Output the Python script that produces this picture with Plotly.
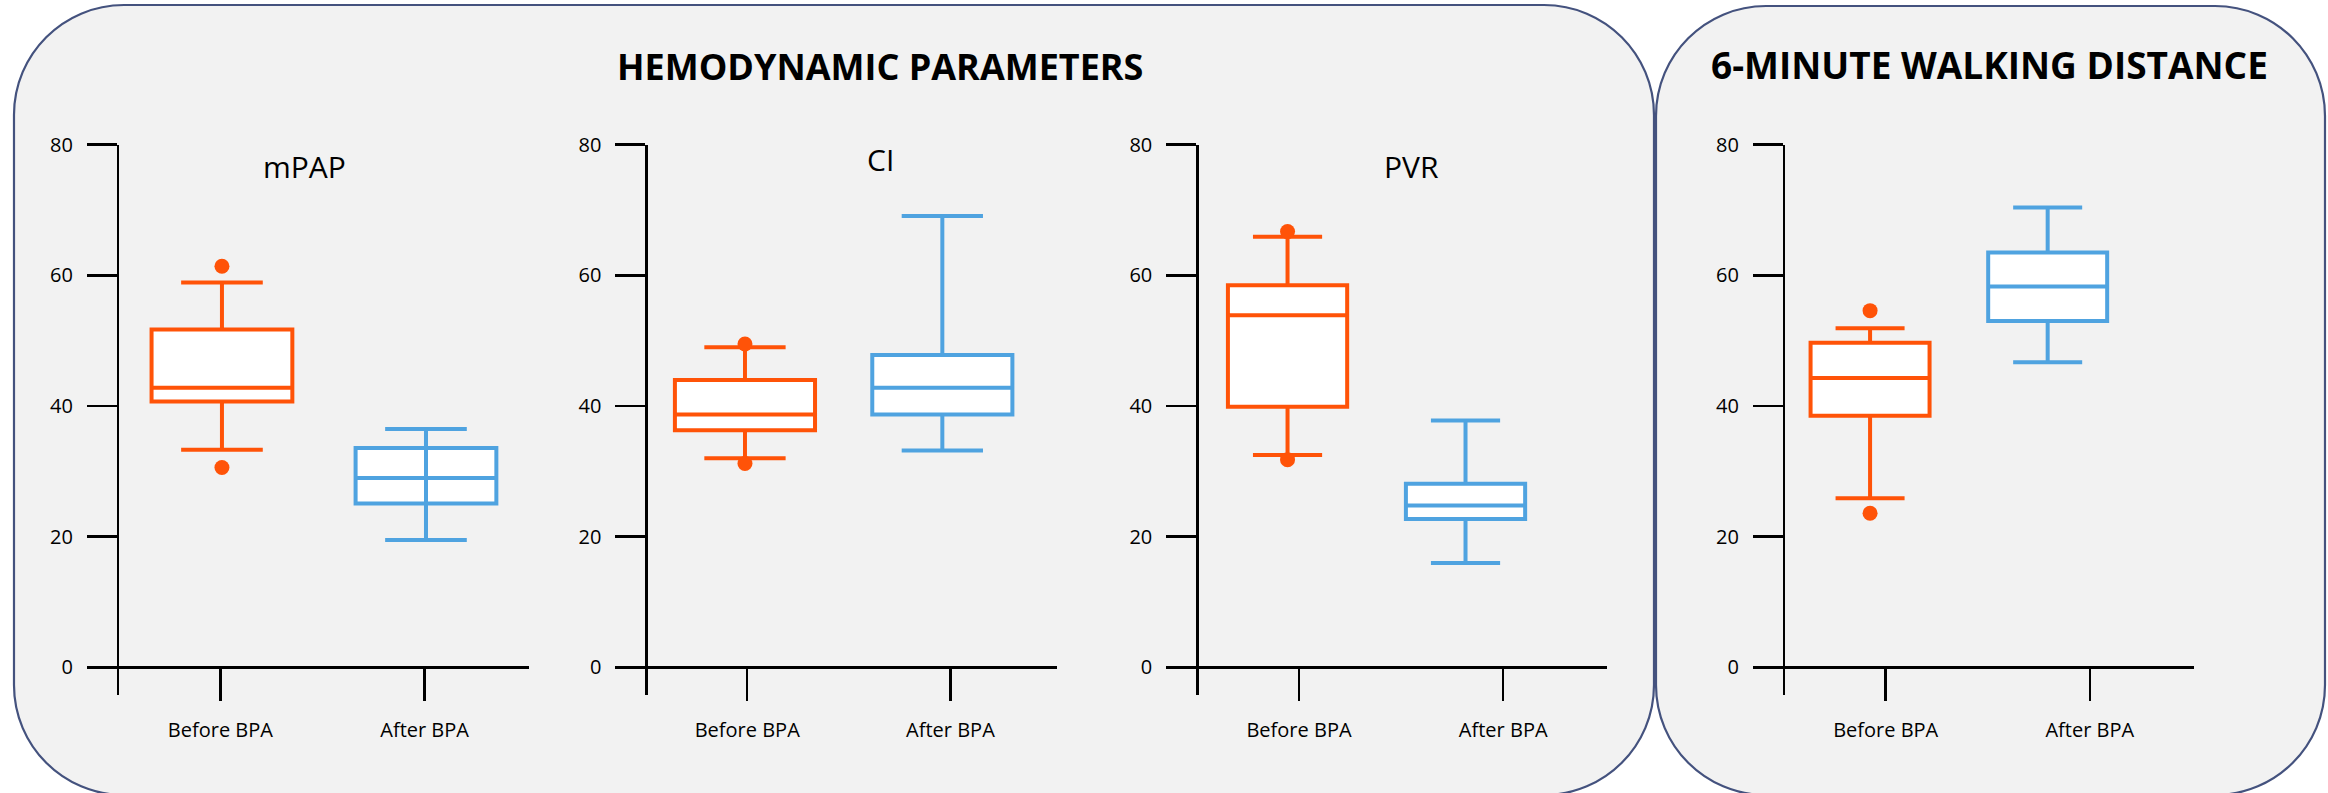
import plotly.graph_objects as go

W, H = 2328, 793

# ---------------- data ----------------
categories = ["Before BPA", "After BPA"]
metrics = ["mPAP", "CI", "PVR", "6MWD"]
subtitles = ["mPAP", "CI", "PVR", ""]
group_titles = ["HEMODYNAMIC PARAMETERS", "6-MINUTE WALKING DISTANCE"]
y_ticks = [0, 20, 40, 60, 80]

before_lower = [33.3, 32.0, 32.5, 25.9]
before_q1 = [40.7, 36.3, 39.9, 38.5]
before_median = [42.8, 38.7, 53.9, 44.3]
before_q3 = [51.7, 44.0, 58.5, 49.7]
before_upper = [58.9, 49.0, 65.9, 51.9]
before_outlier_high = [61.4, 49.5, 66.7, 54.6]
before_outlier_low = [30.6, 31.2, 31.8, 23.6]

after_lower = [19.5, 33.2, 16.0, 46.7]
after_q1 = [25.1, 38.7, 22.7, 53.0]
after_median = [29.0, 42.8, 24.8, 58.3]
after_q3 = [33.6, 47.8, 28.1, 63.5]
after_upper = [36.5, 69.1, 37.8, 70.4]
after_whisker_through_box = [True, False, False, False]

# ---------------- styling / layout geometry (pixels) ----------------
ORANGE = "#FF5308"
BLUE = "#4FA3E0"
BORDER = "#44527E"
PANEL_FILL = "#F2F2F2"
FONT = "Open Sans, DejaVu Sans, sans-serif"

# x-domain (left,right) px, y-axis line x px, box-axis range, tick-axis range, box width
panels = [
    dict(dom=(87.5, 528.6), axis_x=117.9, rng=(-0.659, 1.503), trng=(-0.6508, 1.5093), bw=0.69),
    dict(dom=(615.7, 1056.8), axis_x=646.4, rng=(-0.655, 1.580), trng=(-0.6473, 1.5235), bw=0.71),
    dict(dom=(1165.8, 1607.2), axis_x=1197.3, rng=(-0.684, 1.796), trng=(-0.6523, 1.5093), bw=0.67),
    dict(dom=(1753.2, 2194.2), axis_x=1783.9, rng=(-0.658, 1.825), trng=(-0.6492, 1.5115), bw=0.67),
]
Y_TOP_PX, Y_BOT_PX = 144.7, 695.0
Y_ZERO_PX = 667.4
Y_RANGE = [-4.22, 80]
subtitle_pos = [(304, 167), (880, 159), (1411, 167), None]


def px(x, y):
    return x / W, 1 - y / H


def rounded_rect(x0, y0, x1, y1, r):
    k = 0.5523 * r

    def P(x, y):
        a, b = px(x, y)
        return f"{a:.5f},{b:.5f}"

    s = f"M {P(x0 + r, y0)} L {P(x1 - r, y0)} "
    s += f"C {P(x1 - r + k, y0)} {P(x1, y0 + r - k)} {P(x1, y0 + r)} "
    s += f"L {P(x1, y1 - r)} "
    s += f"C {P(x1, y1 - r + k)} {P(x1 - r + k, y1)} {P(x1 - r, y1)} "
    s += f"L {P(x0 + r, y1)} "
    s += f"C {P(x0 + r - k, y1)} {P(x0, y1 - r + k)} {P(x0, y1 - r)} "
    s += f"L {P(x0, y0 + r)} "
    s += f"C {P(x0, y0 + r - k)} {P(x0 + r - k, y0)} {P(x0 + r, y0)} Z"
    return s


def ax_id(letter, n):
    return letter if n == 1 else f"{letter}{n}"


def ax_name(letter, n):
    return f"{letter}axis" if n == 1 else f"{letter}axis{n}"


fig = go.Figure()

for i in range(4):
    xr = ax_id("x", i + 1)
    xt = ax_id("x", i + 5)
    yr = ax_id("y", i + 1)
    bw = panels[i]["bw"]
    fig.add_trace(go.Box(
        x=[categories[0]], q1=[before_q1[i]], median=[before_median[i]], q3=[before_q3[i]],
        lowerfence=[before_lower[i]], upperfence=[before_upper[i]],
        name=categories[0], width=bw, whiskerwidth=0.58,
        line=dict(color=ORANGE, width=4), fillcolor="white",
        boxpoints=False, showlegend=False, xaxis=xr, yaxis=yr))
    fig.add_trace(go.Box(
        x=[categories[1]], q1=[after_q1[i]], median=[after_median[i]], q3=[after_q3[i]],
        lowerfence=[after_lower[i]], upperfence=[after_upper[i]],
        name=categories[1], width=bw, whiskerwidth=0.58,
        line=dict(color=BLUE, width=4), fillcolor="white",
        boxpoints=False, showlegend=False, xaxis=xr, yaxis=yr))
    fig.add_trace(go.Scatter(
        x=[categories[0], categories[0]],
        y=[before_outlier_high[i], before_outlier_low[i]],
        mode="markers", marker=dict(color=ORANGE, size=15),
        showlegend=False, hoverinfo="y", xaxis=xr, yaxis=yr))
    if after_whisker_through_box[i]:
        fig.add_trace(go.Scatter(
            x=[categories[1], categories[1]], y=[after_lower[i], after_upper[i]],
            mode="lines", line=dict(color=BLUE, width=4),
            showlegend=False, hoverinfo="skip", xaxis=xr, yaxis=yr))
    # invisible helper registering the categories on the tick-label axis
    fig.add_trace(go.Scatter(
        x=categories, y=[before_median[i], after_median[i]],
        mode="markers", marker=dict(opacity=0, size=1),
        showlegend=False, hoverinfo="skip", xaxis=xt, yaxis=yr))

layout = dict(
    width=W, height=H, autosize=False,
    margin=dict(l=0, r=0, t=0, b=0, pad=0),
    paper_bgcolor="white", plot_bgcolor="rgba(0,0,0,0)",
    showlegend=False,
    font=dict(family=FONT, color="black"),
)

y_dom = [1 - Y_BOT_PX / H, 1 - Y_TOP_PX / H]
x_pos = 1 - Y_ZERO_PX / H
for i, p in enumerate(panels):
    layout[ax_name("x", i + 1)] = dict(
        domain=[p["dom"][0] / W, p["dom"][1] / W], range=list(p["rng"]),
        anchor="free", position=x_pos, type="category",
        categoryorder="array", categoryarray=categories,
        showline=False, showgrid=False, zeroline=False, automargin=False,
        ticks="", showticklabels=False, fixedrange=True)
    layout[ax_name("x", i + 5)] = dict(
        overlaying=ax_id("x", i + 1), range=list(p["trng"]),
        anchor="free", position=x_pos, type="category",
        categoryorder="array", categoryarray=categories,
        showline=False, showgrid=False, zeroline=False, automargin=False,
        ticks="outside", ticklen=33, tickwidth=2.5, tickcolor="black",
        tickfont=dict(family=FONT, size=20, color="black"),
        ticklabelstandoff=12, fixedrange=True)
    layout[ax_name("y", i + 1)] = dict(
        domain=y_dom, range=Y_RANGE, anchor="free", position=p["axis_x"] / W,
        tickmode="array", tickvals=y_ticks, ticktext=[str(t) for t in y_ticks],
        showline=True, linecolor="black", linewidth=2.5, automargin=False,
        ticks="outside", ticklen=30, tickwidth=2.5, tickcolor="black",
        showgrid=False, zeroline=True, zerolinecolor="black", zerolinewidth=2.5,
        tickfont=dict(family=FONT, size=20, color="black"),
        ticklabelstandoff=10, fixedrange=True)

fig.update_layout(**layout)

# rounded panel backgrounds
fig.add_shape(type="path", xref="paper", yref="paper", layer="below",
              path=rounded_rect(14, 5, 1654, 795, 110),
              fillcolor=PANEL_FILL, line=dict(color=BORDER, width=2.2))
fig.add_shape(type="path", xref="paper", yref="paper", layer="below",
              path=rounded_rect(1656, 6, 2325, 795, 110),
              fillcolor=PANEL_FILL, line=dict(color=BORDER, width=2.2))

annotations = []
for i, pos in enumerate(subtitle_pos):
    if pos is None:
        continue
    ax, ay = px(*pos)
    annotations.append(dict(text=subtitles[i], x=ax, y=ay, xref="paper", yref="paper",
                            xanchor="center", yanchor="middle", showarrow=False,
                            font=dict(family=FONT, size=30, color="black")))
tx, ty = px(880, 66)
annotations.append(dict(text=f"<b>{group_titles[0]}</b>", x=tx, y=ty, xref="paper", yref="paper",
                        xanchor="center", yanchor="middle", showarrow=False,
                        font=dict(family=FONT, size=36, color="black")))
tx, ty = px(1989, 65)
annotations.append(dict(text=f"<b>{group_titles[1]}</b>", x=tx, y=ty, xref="paper", yref="paper",
                        xanchor="center", yanchor="middle", showarrow=False,
                        font=dict(family=FONT, size=37, color="black")))
fig.update_layout(annotations=annotations)

fig.write_html(
    "out.html",
    config={"displayModeBar": False, "staticPlot": True, "responsive": False},
    post_script="document.body.style.margin='0px';document.body.style.overflow='hidden';",
)
